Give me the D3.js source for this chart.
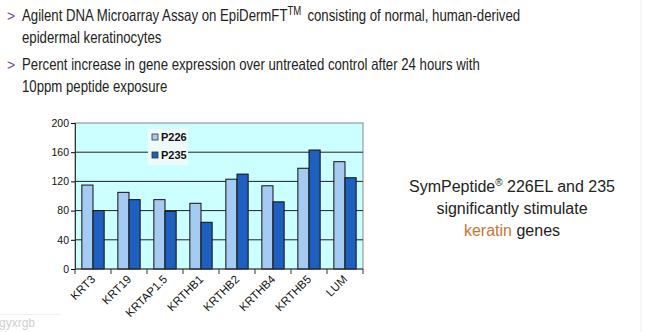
<!DOCTYPE html>
<html>
<head>
<meta charset="utf-8">
<script src="https://cdn.jsdelivr.net/npm/d3@7"></script>
<style>
  body { margin: 0; background: #fff; }
  svg { display: block; font-family: "Liberation Sans", Arial, sans-serif; }
</style>
</head>
<body>
<svg id="drawing_region"></svg>
<script>
const genes = ["KRT3", "KRT19", "KRTAP1.5", "KRTHB1", "KRTHB2", "KRTHB4", "KRTHB5", "LUM"];
const seriesNames = ["P226", "P235"];
const p226 = [115, 105, 95, 90, 123, 114, 138, 147];
const p235 = [80, 95, 79, 64, 130, 92, 163, 125];
const yTicks = [0, 40, 80, 120, 160, 200];
const colors = ["#a6cbf2", "#1f5fbf"];

const width = 646;
const height = 332;
const margin = {top: 123, right: 283, bottom: 63, left: 75};

const svg = d3.select('#drawing_region')
    .attr('width', width)
    .attr('height', height);

// heading bullets (text is horizontally squeezed in the original slide)
const bullets = [
  {y: 21, lines: ["Agilent DNA Microarray Assay on EpiDermFT", "epidermal keratinocytes"]},
  {y: 70, lines: ["Percent increase in gene expression over untreated control after 24 hours with", "10ppm peptide exposure"]}
];
const head = svg.append("g").attr("transform", "translate(22,0) scale(0.8,1)");
bullets.forEach(b => {
  svg.append("text").attr("x", 7).attr("y", b.y).attr("font-size", "14px")
      .attr("fill", "#7a4a8a").text(">");
  b.lines.forEach((l, i) => {
    head.append("text").attr("x", 0).attr("y", b.y + i * 22)
        .attr("font-size", "16.5px").attr("fill", "#222").text(l);
  });
});
const l1 = head.selectAll("text").filter(function() { return this.textContent.startsWith("Agilent"); });
l1.append("tspan").attr("dy", -6).attr("font-size", "12px").text("TM");
l1.append("tspan").attr("dy", 6).attr("dx", 3).text(" consisting of normal, human-derived");

const chart = svg.append('g')
    .attr('transform', `translate(${margin.left}, ${margin.top})`);
const inner_width = width - margin.left - margin.right;
const inner_height = height - margin.top - margin.bottom;

const xscale = d3.scaleBand()
    .domain(genes)
    .range([0, inner_width])
    .paddingInner(0.38)
    .paddingOuter(0.19);
const sub = d3.scaleBand().domain(seriesNames).range([0, xscale.bandwidth()]);
const yscale = d3.scaleLinear().domain([0, 200]).range([inner_height, 0]);

chart.append("rect").attr("width", inner_width).attr("height", inner_height)
    .attr("fill", "#ccffff").attr("stroke", "#888").attr("stroke-width", 1);

chart.selectAll(".grid").data(yTicks.filter(d => d > 0 && d < 200)).enter()
    .append("line").attr("class", "grid")
    .attr("x1", 0).attr("x2", inner_width)
    .attr("y1", d => yscale(d)).attr("y2", d => yscale(d))
    .attr("stroke", "#222").attr("stroke-width", 1);

// bars
const data = genes.map((g, i) => ({gene: g, vals: [p226[i], p235[i]]}));
const groups = chart.selectAll(".grp").data(data).enter().append("g")
    .attr("transform", d => `translate(${xscale(d.gene)},0)`);
groups.selectAll("rect").data(d => d.vals.map((v, k) => ({k, v}))).enter()
    .append("rect")
    .attr("x", d => sub(seriesNames[d.k]))
    .attr("y", d => yscale(d.v))
    .attr("width", sub.bandwidth())
    .attr("height", d => inner_height - yscale(d.v))
    .attr("fill", d => colors[d.k])
    .attr("stroke", "#111").attr("stroke-width", 1);

// y axis
const yaxis = d3.axisLeft(yscale).tickValues(yTicks).tickSize(4).tickPadding(2);
const yg = chart.append("g").call(yaxis);
yg.select(".domain").attr("stroke", "#333");
yg.selectAll("text").attr("font-size", "10.5px").attr("fill", "#111")
    .attr("font-family", "Liberation Sans, Arial, sans-serif");

// x axis: ticks at category boundaries
const step = xscale.step();
const xg = chart.append("g").attr("transform", `translate(0,${inner_height})`);
xg.append("line").attr("x1", 0).attr("x2", inner_width).attr("stroke", "#333");
xg.selectAll(".tk").data(d3.range(genes.length + 1)).enter().append("line")
    .attr("x1", i => i * step).attr("x2", i => i * step)
    .attr("y1", 0).attr("y2", 5).attr("stroke", "#333");
xg.selectAll(".lbl").data(genes).enter().append("text")
    .attr("transform", d => `translate(${xscale(d) + xscale.bandwidth() / 2 + 3},${11}) rotate(-45)`)
    .attr("text-anchor", "end")
    .attr("font-size", "11.5px").attr("fill", "#111")
    .text(d => d);

// legend
const legend = chart.append("g").attr("transform", "translate(73,0)");
legend.append("rect").attr("x", 0).attr("y", 6).attr("width", 40).attr("height", 36)
    .attr("fill", "#eefafa");
seriesNames.forEach((s, i) => {
  const g = legend.append("g").attr("transform", `translate(4,${18 + i * 18})`);
  g.append("rect").attr("width", 6).attr("height", 6).attr("y", -7)
      .attr("fill", colors[i]).attr("stroke", "#333").attr("stroke-width", 0.8);
  g.append("text").attr("x", 9).attr("y", 0).attr("font-size", "11px")
      .attr("font-weight", "bold").attr("fill", "#111").text(s);
});

// side note
const note = svg.append("g").attr("font-size", "16px").attr("fill", "#222").attr("text-anchor", "middle");
const n1 = note.append("text").attr("x", 512).attr("y", 192).text("SymPeptide");
n1.append("tspan").attr("dy", -6).attr("font-size", "10px").text("®");
n1.append("tspan").attr("dy", 6).text(" 226EL and 235");
note.append("text").attr("x", 512).attr("y", 214).text("significantly stimulate");
const n3 = note.append("text").attr("x", 512).attr("y", 236);
n3.append("tspan").attr("fill", "#c87533").text("keratin");
n3.append("tspan").text(" genes");

// watermark
svg.append("line").attr("x1", 0).attr("x2", 60).attr("y1", 314.5).attr("y2", 314.5)
    .attr("stroke", "#f2f2f2");
svg.append("text").attr("x", -1).attr("y", 327).attr("font-size", "12px")
    .attr("fill", "#cfcfcf").text("gyxrgb");
svg.append("line").attr("x1", 641).attr("x2", 641).attr("y1", 0).attr("y2", height)
    .attr("stroke", "#eee");
</script>
</body>
</html>
